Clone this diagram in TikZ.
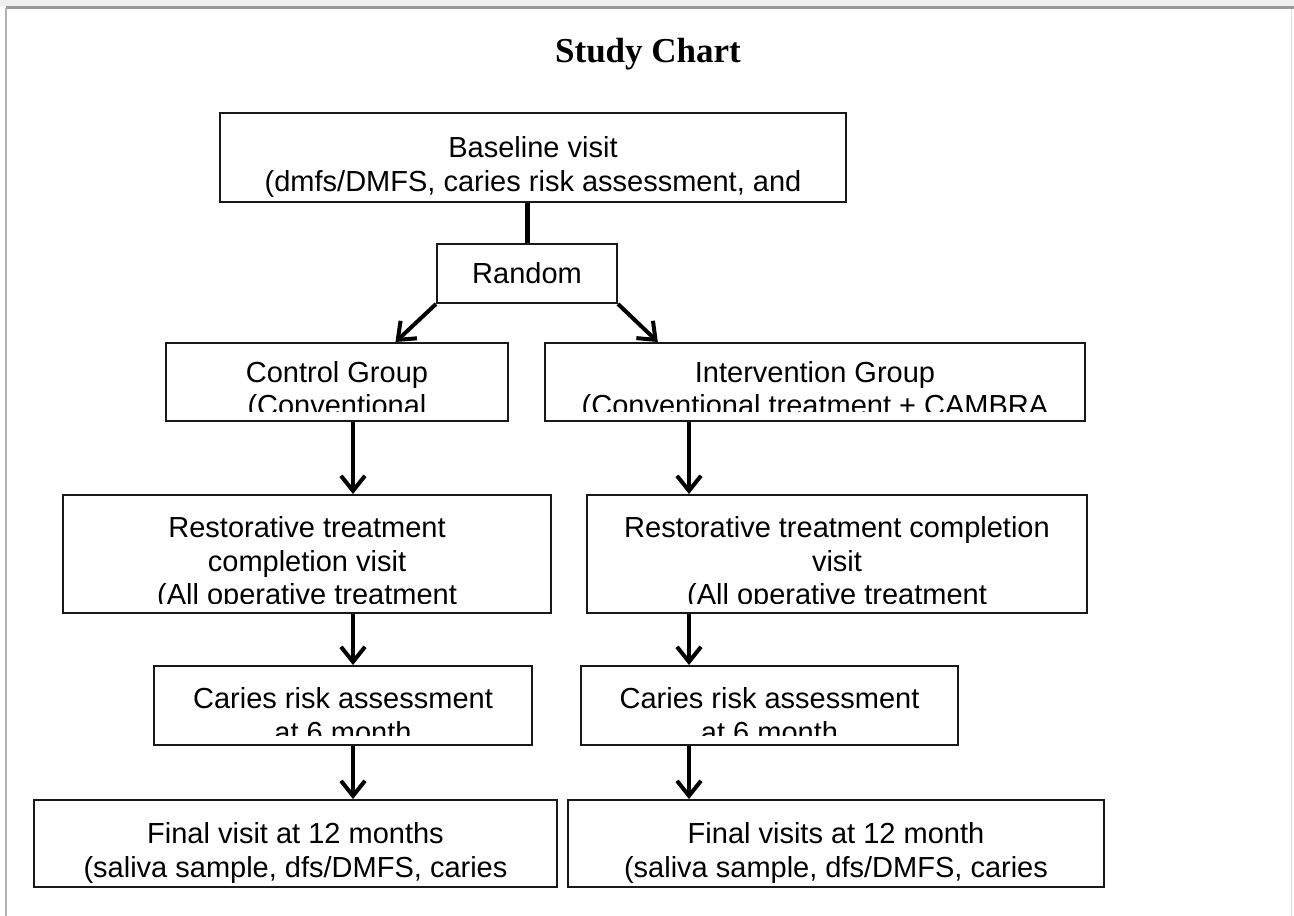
\documentclass[tikz,border=0pt]{standalone}
\usepackage{fontspec}
\setmainfont{Liberation Sans}
\newfontfamily\titlefont{Liberation Serif}
\usetikzlibrary{arrows.meta,calc}

\tikzset{
  boxtext/.style={anchor=north, align=center, inner sep=0pt, font=\fontsize{29}{33.5}\selectfont},
  chartbox/.style n args={2}{draw=black!90, line width=2pt, inner sep=0pt,
    path picture={
      \clip ([yshift=#2]path picture bounding box.south west) rectangle (path picture bounding box.north east);
      \node[boxtext] at ([yshift=-8.5pt]path picture bounding box.north) {#1};
    }},
  arr/.style={line width=4pt, -{Straight Barb[length=15pt,width=24pt]}}
}

\begin{document}
\begin{tikzpicture}[x=1pt, y=-1pt]
\useasboundingbox (0,0) rectangle (1294,916);
% page edge
\fill[black!6] (0,0) rectangle (1294,6);
\draw[black!40, line width=2.5pt] (6,7.5) -- (1294,7.5);
\draw[black!30, line width=1.5pt] (6,7.5) -- (6,916);
\draw[black!12, line width=1pt] (1291,9) -- (1291,916);

\node[font=\titlefont\bfseries\fontsize{35}{40}\selectfont, anchor=base] (title) at (648,62) {Study Chart};

\node[chartbox={{Baseline visit\\ (dmfs/DMFS, caries risk assessment, and}{2pt}}, minimum width=626, minimum height=89] (base) at (533,157.5) {};
\node[draw=black!90, line width=2pt, minimum width=180, minimum height=59, font=\fontsize{29}{33.5}\selectfont] (rand) at (527,273.5) {Random};

\node[chartbox={{Control Group\\(Conventional}{10pt}}, minimum width=342, minimum height=78] (ctrl) at (337,382) {};
\node[chartbox={{Intervention Group\\(Conventional treatment + CAMBRA}{10pt}}, minimum width=540, minimum height=78] (intv) at (815,382) {};

\node[chartbox={{Restorative treatment\\completion visit\\(All operative treatment}{10pt}}, minimum width=488, minimum height=118] (rest1) at (307,554) {};
\node[chartbox={{Restorative treatment completion\\visit\\(All operative treatment}{10pt}}, minimum width=500, minimum height=118] (rest2) at (837,554) {};

\node[chartbox={{Caries risk assessment\\at 6 month}{10pt}}, minimum width=378, minimum height=79] (car1) at (343,705.5) {};
\node[chartbox={{Caries risk assessment\\at 6 month}{10pt}}, minimum width=377, minimum height=79] (car2) at (769.5,705.5) {};

\node[chartbox={{Final visit at 12 months\\(saliva sample, dfs/DMFS, caries}{2pt}}, minimum width=523, minimum height=87] (fin1) at (295.5,843.5) {};
\node[chartbox={{Final visits at 12 month\\(saliva sample, dfs/DMFS, caries}{2pt}}, minimum width=536, minimum height=87] (fin2) at (836,843.5) {};

% connectors
\draw[line width=5pt] (rand.north |- base.south) -- (rand.north);
\draw[arr] (rand.south west) -- ($(ctrl.north west)!.67!(ctrl.north east)$);
\draw[arr] (rand.south east) -- ($(intv.north west)!.21!(intv.north east)$);

\coordinate (lcol) at (353,0);
\coordinate (rcol) at (689,0);
\foreach \a/\b in {ctrl/rest1, rest1/car1, car1/fin1}
  \draw[arr] (\a.south -| lcol) -- (\b.north -| lcol);
\foreach \a/\b in {intv/rest2, rest2/car2, car2/fin2}
  \draw[arr] (\a.south -| rcol) -- (\b.north -| rcol);
\end{tikzpicture}
\end{document}
